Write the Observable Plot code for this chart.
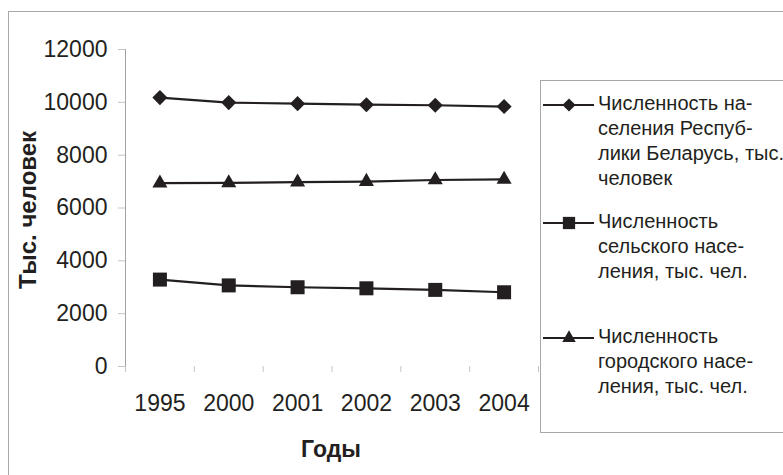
<!DOCTYPE html>
<html>
<head>
<meta charset="utf-8">
<script src="https://cdn.jsdelivr.net/npm/d3@7"></script>
<script src="https://cdn.jsdelivr.net/npm/@observablehq/plot@0.6"></script>
<style>
  html, body { margin: 0; padding: 0; background: #fff; }
  #wrap { position: relative; width: 783px; height: 475px; overflow: hidden; font-family: "Liberation Sans", Arial, sans-serif; color: #231f20; }
  #frame { position: absolute; left: 8px; top: 11px; width: 800px; height: 500px; border: 1px solid #a8a8a8; box-sizing: border-box; }
  #chart { position: absolute; left: 0; top: 0; }
  .ytitle { position: absolute; left: 28px; top: 210px; transform: translate(-50%, -50%) rotate(-90deg); font-weight: bold; font-size: 24px; white-space: nowrap; }
  .xtitle { position: absolute; left: 331px; top: 449px; transform: translate(-50%, -50%); font-weight: bold; font-size: 23px; white-space: nowrap; }
  #legend { position: absolute; left: 540px; top: 80px; width: 300px; height: 353px; border: 1px solid #a8a8a8; box-sizing: border-box; }
  .entry { position: absolute; left: 0; }
  .entry svg { position: absolute; left: 2px; }
  .entry .txt { position: absolute; left: 57px; font-size: 20px; line-height: 25px; white-space: nowrap; }
</style>
</head>
<body>
<div id="wrap">
  <div id="frame"></div>
  <div id="chart"></div>
  <div class="ytitle">Тыс. человек</div>
  <div class="xtitle">Годы</div>
  <div id="legend"></div>
</div>
<script>
// ---- data ----
const years = ["1995", "2000", "2001", "2002", "2003", "2004"];
const totalPop = [10180, 9990, 9950, 9910, 9890, 9840];
const ruralPop = [3290, 3070, 3000, 2960, 2900, 2810];
const urbanPop = [6940, 6950, 6980, 7000, 7060, 7080];
const yTicks = [0, 2000, 4000, 6000, 8000, 10000, 12000];
const seriesNames = [
  ["Численность на-", "селения Респуб-", "лики Беларусь, тыс.", "человек"],
  ["Численность", "сельского насе-", "ления, тыс. чел."],
  ["Численность", "городского насе-", "ления, тыс. чел."]
];
const symbols = ["diamond2", "square", "triangle"];

const ink = "#231f20";
const idx = d3.range(years.length);
const bounds = d3.range(years.length + 1).map(k => k - 0.5);
const series = [totalPop, ruralPop, urbanPop];
const radii = [6.8, 7.9, 5.6];

const marks = [
  Plot.ruleX([bounds[0]], {stroke: "#a0a0a0"}),
  Plot.axisX({ticks: bounds, tickSize: 6, tickFormat: () => "", stroke: "#c4c4c4", label: null}),
  Plot.axisX({ticks: idx, tickSize: 0, tickPadding: 28, tickFormat: i => years[i], fill: ink, fontSize: 23, label: null}),
  Plot.axisY({ticks: yTicks, tickSize: 7, tickPadding: 11, stroke: "#c4c4c4", fill: ink, fontSize: 23, label: null, tickFormat: d => String(d)})
];
series.forEach((s, k) => {
  marks.push(Plot.line(s, {x: (d, i) => i, y: d => d, stroke: ink, strokeWidth: 2.2}));
  marks.push(Plot.dot(s, {x: (d, i) => i, y: d => d, symbol: symbols[k], r: radii[k], fill: ink, stroke: "none"}));
});

const chart = Plot.plot({
  width: 783,
  height: 475,
  marginLeft: 125,
  marginRight: 245,
  marginTop: 49,
  marginBottom: 109,
  x: {domain: [bounds[0], bounds[bounds.length - 1]], axis: null},
  y: {domain: [yTicks[0], yTicks[yTicks.length - 1]], axis: null},
  style: {fontFamily: '"Liberation Sans", Arial, sans-serif', background: "transparent", color: ink},
  marks
});
document.getElementById("chart").appendChild(chart);

// ---- legend ----
const legend = d3.select("#legend");
const entryTops = [10, 128, 243];
const symTypes = [d3.symbolDiamond2, d3.symbolSquare, d3.symbolTriangle];
const symSizes = [110, 150, 80];
seriesNames.forEach((lines, k) => {
  const e = legend.append("div").attr("class", "entry").style("top", entryTops[k] + "px");
  const svg = e.append("svg").attr("width", 54).attr("height", 20).style("top", "4px");
  svg.append("line").attr("x1", 0).attr("x2", 51).attr("y1", 10).attr("y2", 10).attr("stroke", ink).attr("stroke-width", 2);
  svg.append("path").attr("d", d3.symbol(symTypes[k], symSizes[k])()).attr("transform", "translate(26,10)").attr("fill", ink);
  e.append("div").attr("class", "txt").html(lines.join("<br>"));
});
</script>
</body>
</html>
